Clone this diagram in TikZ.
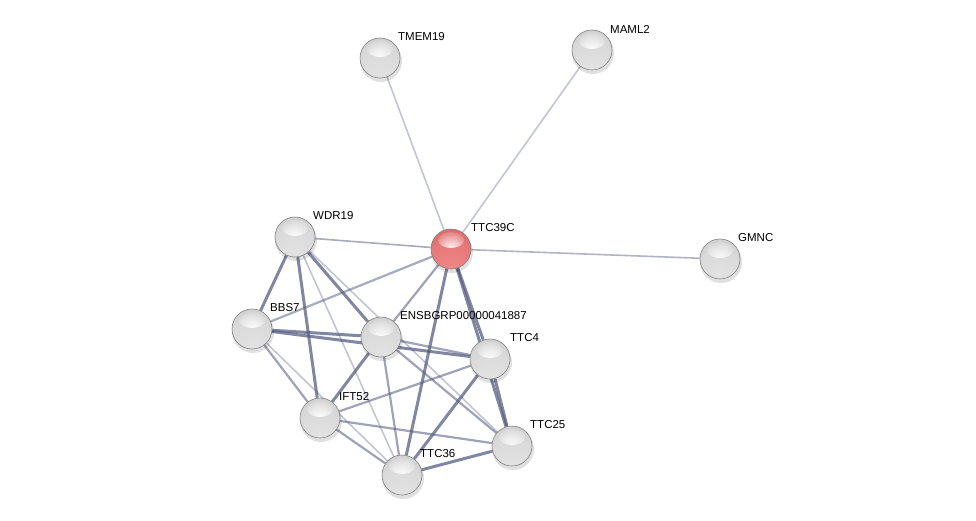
\documentclass[tikz,border=0pt]{standalone}
\usepackage{fontspec}
\setmainfont{Liberation Sans}
\usetikzlibrary{fadings}
\tikzfading[name=hlfade, inner color=transparent!0, outer color=transparent!100]
\definecolor{edgecol}{RGB}{80,88,125}
\definecolor{g0}{RGB}{228,228,228}
\definecolor{g1}{RGB}{218,218,218}
\definecolor{g2}{RGB}{198,198,198}
\definecolor{g3}{RGB}{172,172,172}
\definecolor{g4}{RGB}{130,130,130}
\definecolor{g5}{RGB}{105,105,105}
\definecolor{r0}{RGB}{240,138,138}
\definecolor{r1}{RGB}{230,120,120}
\definecolor{r2}{RGB}{210,94,94}
\definecolor{r3}{RGB}{185,68,68}
\definecolor{r4}{RGB}{148,46,46}
\definecolor{r5}{RGB}{120,36,36}
\pgfdeclareradialshading{graysphere}{\pgfpoint{0bp}{-30bp}}{%
 color(0bp)=(g0); color(30bp)=(g1); color(55bp)=(g2); color(70bp)=(g3); color(80bp)=(g4); color(100bp)=(g5)}
\pgfdeclareradialshading{redsphere}{\pgfpoint{0bp}{-30bp}}{%
 color(0bp)=(r0); color(30bp)=(r1); color(55bp)=(r2); color(70bp)=(r3); color(80bp)=(r4); color(100bp)=(r5)}
\pgfdeclarelayer{edgelayer}
\pgfdeclarelayer{shadowlayer}
\pgfsetlayers{edgelayer,shadowlayer,main}
\tikzset{
  hilite/.style={path picture={\fill[white, path fading=hlfade, opacity=0.95]
      ([yshift=9pt]path picture bounding box.center) ellipse (13pt and 8pt);}},
  prot/.style={circle, minimum size=40pt, inner sep=0pt, shading=graysphere, draw=black!50, line width=0.6pt, hilite},
  protred/.style={circle, minimum size=40pt, inner sep=0pt, shading=redsphere, draw=black!50, line width=0.6pt, hilite},
  shad/.style={fill=black, opacity=0.12},
  lbl/.style={anchor=west, inner sep=0pt, font=\fontsize{11.5}{13}\selectfont, text=black},
  e3/.style={draw=edgecol, line width=3pt, opacity=0.72},
  e2/.style={draw=edgecol, line width=2.2pt, opacity=0.55},
  e1/.style={draw=edgecol, line width=1.6pt, opacity=0.35},
}
\begin{document}
\begin{tikzpicture}[x=1pt,y=-1pt]
\useasboundingbox (0,0) rectangle (976,520);
\node[prot] (tmem) at (380,58) {};
\node[prot] (maml) at (592,50) {};
\node[protred] (ttc39c) at (451,249) {};
\node[prot] (gmnc) at (720,259) {};
\node[prot] (wdr) at (295,237) {};
\node[prot] (bbs) at (252,329) {};
\node[prot] (ens) at (381,337) {};
\node[prot] (ttc4) at (490,359) {};
\node[prot] (ift) at (320,418) {};
\node[prot] (ttc25) at (512,446) {};
\node[prot] (ttc36) at (402,475) {};
\node[lbl] (ltmem) at ([shift={(18,-21)}]tmem.center) {TMEM19};
\node[lbl] (lmaml) at ([shift={(18,-21)}]maml.center) {MAML2};
\node[lbl] (lttc39c) at ([shift={(20,-21)}]ttc39c.center) {TTC39C};
\node[lbl] (lgmnc) at ([shift={(18,-21)}]gmnc.center) {GMNC};
\node[lbl] (lwdr) at ([shift={(18,-21)}]wdr.center) {WDR19};
\node[lbl] (lbbs) at ([shift={(18,-21)}]bbs.center) {BBS7};
\node[lbl] (lens) at ([shift={(19,-21)}]ens.center) {ENSBGRP00000041887};
\node[lbl] (lttc4) at ([shift={(20,-21)}]ttc4.center) {TTC4};
\node[lbl] (lift) at ([shift={(19,-21)}]ift.center) {IFT52};
\node[lbl] (lttc25) at ([shift={(18,-21)}]ttc25.center) {TTC25};
\node[lbl] (lttc36) at ([shift={(18,-21)}]ttc36.center) {TTC36};
\begin{pgfonlayer}{shadowlayer}
\foreach \n in {tmem,maml,ttc39c,gmnc,wdr,bbs,ens,ttc4,ift,ttc25,ttc36}{
  \fill[shad] ([shift={(1,3)}]\n.center) circle (21);
}
\end{pgfonlayer}
\begin{pgfonlayer}{edgelayer}
\draw[e1] (ttc39c) -- (tmem);
\draw[e1] (ttc39c) -- (maml);
\draw[e1,opacity=0.45] (ttc39c) -- (gmnc);
\draw[e1,opacity=0.5] (ttc39c) -- (wdr);
\draw[e2,opacity=0.5] (ttc39c) -- (bbs);
\draw[e2] (ttc39c) -- (ens);
\draw[e3] (ttc39c) -- (ttc36);
\draw[e3] (ttc39c) -- (ttc4);
\draw[e3] (ttc39c) -- (ttc25);
\draw[e3] (wdr) -- (bbs);
\draw[e3] (wdr) -- (ift);
\draw[e3] (wdr) -- (ens);
\draw[e1] (wdr) -- (ttc36);
\draw[e1] (wdr) -- (ttc25);
\draw[e3] (bbs) -- (ens);
\draw[e3] (bbs) -- (ttc4);
\draw[e2] (bbs) -- (ift);
\draw[e1] (bbs) -- (ttc36);
\draw[e3] (ens) -- (ift);
\draw[e2] (ens) -- (ttc36);
\draw[e2] (ens) -- (ttc4);
\draw[e2] (ens) -- (ttc25);
\draw[e2] (ift) -- (ttc4);
\draw[e2] (ift) -- (ttc25);
\draw[e2] (ift) -- (ttc36);
\draw[e3] (ttc4) -- (ttc25);
\draw[e3] (ttc4) -- (ttc36);
\draw[e3] (ttc36) -- (ttc25);
\end{pgfonlayer}
\end{tikzpicture}
\end{document}
